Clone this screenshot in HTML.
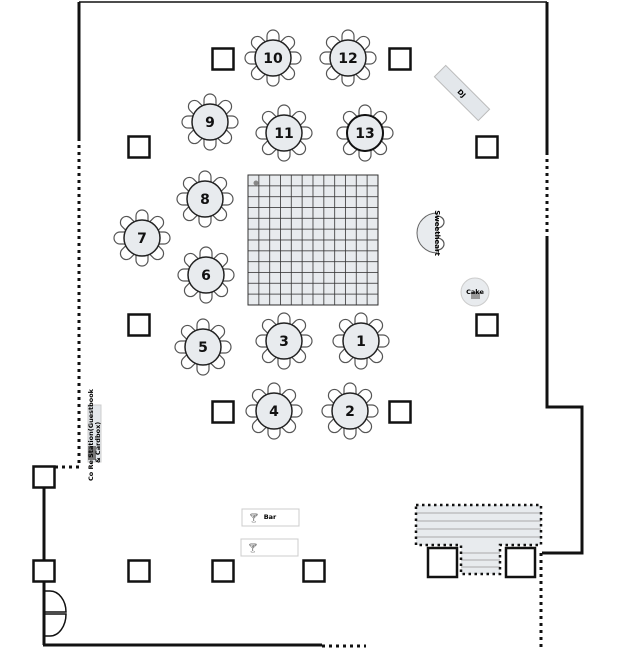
<!DOCTYPE html>
<html><head><meta charset="utf-8"><style>
html,body{margin:0;padding:0;background:#fff;}
svg{display:block;font-family:"DejaVu Sans","Liberation Sans",sans-serif;}
.n{font-size:14px;font-weight:bold;text-anchor:middle;fill:#111;}
.sq{fill:#fff;stroke:#111;stroke-width:2.5;}
</style></head><body>
<svg width="624" height="650" viewBox="0 0 624 650" xmlns="http://www.w3.org/2000/svg">
<defs>
<g id="c"><path d="M-6,-16 L-6,-22 A6,6 0 0 1 6,-22 L6,-16 Z"/></g>
<g id="t">
  <g fill="#fff" stroke="#555" stroke-width="1.2">
    <use href="#c"/><use href="#c" transform="rotate(45)"/><use href="#c" transform="rotate(90)"/><use href="#c" transform="rotate(135)"/>
    <use href="#c" transform="rotate(180)"/><use href="#c" transform="rotate(225)"/><use href="#c" transform="rotate(270)"/><use href="#c" transform="rotate(315)"/>
  </g>
  <circle r="18" fill="#e8ebee" stroke="#222" stroke-width="1.5"/>
</g>
<rect id="s" x="-10.5" y="-10.5" width="21" height="21" class="sq"/>
<pattern id="g" x="248" y="175" width="10.83" height="10.83" patternUnits="userSpaceOnUse">
  <rect width="10.83" height="10.83" fill="#e8ebee" stroke="#333" stroke-width="0.8"/>
</pattern>
</defs>

<g fill="none" stroke="#111">
  <line x1="79" y1="2" x2="547" y2="2" stroke-width="1.5"/>
  <line x1="79" y1="2" x2="79" y2="138" stroke-width="3"/>
  <line x1="79" y1="138" x2="79" y2="467" stroke-width="3" stroke-dasharray="3,4"/>
  <line x1="79" y1="467" x2="55" y2="467" stroke-width="3" stroke-dasharray="3,4"/>
  <line x1="44" y1="487" x2="44" y2="560" stroke-width="3"/>
  <line x1="44" y1="581" x2="44" y2="645" stroke-width="3"/>
  <line x1="43" y1="645" x2="322" y2="645" stroke-width="3"/>
  <line x1="322" y1="646" x2="366" y2="646" stroke-width="3" stroke-dasharray="3,4"/>
  <polyline points="547,2 547,152" stroke-width="3"/>
  <line x1="547" y1="152" x2="547" y2="237" stroke-width="3" stroke-dasharray="3,4"/>
  <polyline points="547,237 547,407 582,407 582,553 542,553" stroke-width="3"/>
  <line x1="541" y1="553" x2="541" y2="650" stroke-width="3" stroke-dasharray="3,4"/>
  <path d="M44,591 L50,591 A16,21 0 0 1 66,612 L44,612 M44,614 L66,614 A16,22 0 0 1 50,636 L44,636" stroke-width="1.5"/>
</g>
<use href="#s" x="44" y="477"/>
<use href="#s" x="44" y="571"/>

<use href="#s" x="223" y="59"/><use href="#s" x="400" y="59"/>
<use href="#s" x="139" y="147"/><use href="#s" x="487" y="147"/>
<use href="#s" x="139" y="325"/><use href="#s" x="487" y="325"/>
<use href="#s" x="223" y="412"/><use href="#s" x="400" y="412"/>
<use href="#s" x="139" y="571"/><use href="#s" x="223" y="571"/><use href="#s" x="314" y="571"/>

<rect x="248" y="175" width="130" height="130" fill="url(#g)" stroke="#333" stroke-width="1"/>
<circle cx="256" cy="183" r="2.5" fill="#888"/>

<use href="#t" x="273" y="58"/><text class="n" x="273" y="63">10</text>
<use href="#t" x="348" y="58"/><text class="n" x="348" y="63">12</text>
<use href="#t" x="210" y="122"/><text class="n" x="210" y="127">9</text>
<use href="#t" x="284" y="133"/><text class="n" x="284" y="138">11</text>
<use href="#t" x="365" y="133"/><circle cx="365" cy="133" r="18" fill="none" stroke="#111" stroke-width="2"/><text class="n" x="365" y="138">13</text>
<use href="#t" x="205" y="199"/><text class="n" x="205" y="204">8</text>
<use href="#t" x="142" y="238"/><text class="n" x="142" y="243">7</text>
<use href="#t" x="206" y="275"/><text class="n" x="206" y="280">6</text>
<use href="#t" x="203" y="347"/><text class="n" x="203" y="352">5</text>
<use href="#t" x="284" y="341"/><text class="n" x="284" y="346">3</text>
<use href="#t" x="361" y="341"/><text class="n" x="361" y="346">1</text>
<use href="#t" x="274" y="411"/><text class="n" x="274" y="416">4</text>
<use href="#t" x="350" y="411"/><text class="n" x="350" y="416">2</text>

<g transform="translate(462,93) rotate(45)">
  <rect x="-31" y="-8" width="62" height="16" fill="#e3e7eb" stroke="#bbb" stroke-width="1"/>
  <text x="0" y="3" font-size="7" font-weight="bold" text-anchor="middle">DJ</text>
</g>

<g fill="#fff" stroke="#555" stroke-width="1.2">
  <path d="M437,216 a7,6 0 0 1 0,12"/><path d="M437,238 a7,6 0 0 1 0,12"/>
</g>
<path d="M437,213 A20,20 0 0 0 437,253 Z" fill="#e8ebee" stroke="#666" stroke-width="1"/>
<text transform="translate(435,233) rotate(90)" font-size="7" font-weight="bold" text-anchor="middle">Sweetheart</text>

<circle cx="475" cy="292" r="14" fill="#e8ebee" stroke="#ccc" stroke-width="1"/>
<rect x="471" y="292" width="9" height="7" fill="#999"/>
<text x="475" y="294" font-size="6.5" font-weight="bold" text-anchor="middle">Cake</text>

<rect x="88" y="405" width="13" height="57" fill="#e3e7eb" stroke="#ccc"/>
<rect x="88" y="446" width="8" height="14" fill="#777"/>
<text transform="translate(93,481) rotate(-90)" font-size="6.5" font-weight="bold">Co Re Station(Guestbook</text>
<text transform="translate(100,463) rotate(-90)" font-size="6.5" font-weight="bold">&amp; Cardbox)</text>

<rect x="242" y="509" width="57" height="17" fill="#fff" stroke="#ccc"/>
<text x="248" y="521" font-size="9" fill="#555">🍸︎</text>
<text x="270" y="519" font-size="6.5" font-weight="bold" text-anchor="middle">Bar</text>
<rect x="241" y="539" width="57" height="17" fill="#fff" stroke="#ccc"/>
<text x="247" y="551" font-size="9" fill="#555">🍸︎</text>

<g stroke="#aaa" stroke-width="1">
  <rect x="416" y="505" width="125" height="40" fill="#e8ebee" stroke="none"/>
  <rect x="461" y="545" width="39" height="29" fill="#e8ebee" stroke="none"/>
  <line x1="416" y1="513" x2="541" y2="513"/><line x1="416" y1="521" x2="541" y2="521"/>
  <line x1="416" y1="529" x2="541" y2="529"/><line x1="416" y1="537" x2="541" y2="537"/>
  <line x1="461" y1="553" x2="500" y2="553"/><line x1="461" y1="560" x2="500" y2="560"/>
  <line x1="461" y1="567" x2="500" y2="567"/>
</g>
<path d="M416,505 H541 V545 H500 V574 H461 V545 H416 Z" fill="none" stroke="#111" stroke-width="2.5" stroke-dasharray="2.5,3.5"/>
<rect x="428" y="548" width="29" height="29" class="sq"/>
<rect x="506" y="548" width="29" height="29" class="sq"/>
</svg>
</body></html>
